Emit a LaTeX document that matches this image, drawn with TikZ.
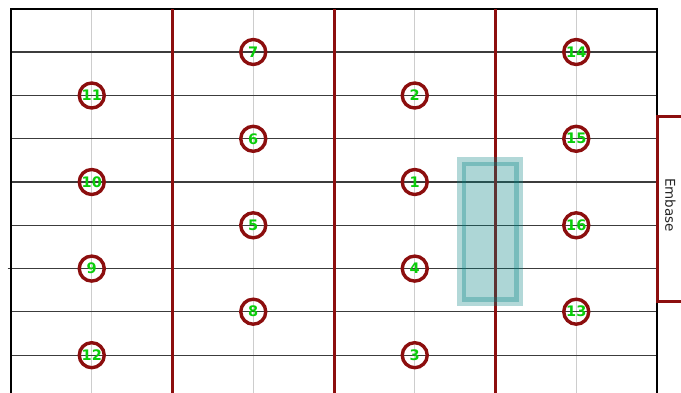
\documentclass[tikz,border=0pt]{standalone}
\usepackage{fontspec}
\setmainfont{DejaVu Sans}
\definecolor{dred}{RGB}{140,14,14}
\definecolor{lgreen}{RGB}{10,205,10}
\definecolor{tealc}{RGB}{0,128,128}
\definecolor{gridg}{RGB}{205,205,205}
\definecolor{hline}{RGB}{60,60,60}
\tikzset{
  hole/.style={circle, draw=dred, line width=3.4pt, minimum size=25pt, inner sep=0pt,
    text=lgreen, font=\bfseries\fontsize{14.5}{14.5}\selectfont},
  redline/.style={draw=dred, line width=3pt},
  gridline/.style={draw=gridg, line width=0.9pt},
  hl/.style={draw=hline, line width=1.3pt},
}
\begin{document}
\begin{tikzpicture}[x=1pt,y=-1pt]
\useasboundingbox (0,0) rectangle (681,393);
\clip (0,0) rectangle (681,393);
\fill[white] (0,0) rectangle (681,393);
% light vertical grid
\foreach \x in {91.75,253.25,414.75,576.25}
  \draw[gridline] (\x,9) -- (\x,400);
% horizontal lines
\foreach \y in {52,95.5,138.8,182,225.3,311.7,355.2}
  \draw[hl] (11,\y) -- (657,\y);
\draw[hl] (7.5,268.6) -- (657,268.6);
% frame
\draw[black, line width=1.8pt] (11,400) -- (11,9) -- (657,9) -- (657,400);
% red vertical lines
\foreach \x in {172.5,334,495.5}
  \draw[redline] (\x,9) -- (\x,400);
% teal box
\draw[draw=tealc, fill=tealc, draw opacity=0.3, fill opacity=0.32, line width=9pt]
  (461.5,161.7) rectangle (518.5,301.7);
% Embase
\draw[draw=dred, line width=3pt, fill=white] (700,116.7) -- (657.3,116.7) -- (657.3,301.7) -- (700,301.7);
\node[rotate=-90, font=\fontsize{13.5}{13.5}\selectfont, text=black!85] (emb) at (670.5,205) {Embase};
% holes
\node[hole] (n11) at (91.75,95.5) {11};
\node[hole] (n10) at (91.75,182) {10};
\node[hole] (n9) at (91.75,268.6) {9};
\node[hole] (n12) at (91.75,355.2) {12};
\node[hole] (n7) at (253.25,52) {7};
\node[hole] (n6) at (253.25,138.8) {6};
\node[hole] (n5) at (253.25,225.3) {5};
\node[hole] (n8) at (253.25,311.7) {8};
\node[hole] (n2) at (414.75,95.5) {2};
\node[hole] (n1) at (414.75,182) {1};
\node[hole] (n4) at (414.75,268.6) {4};
\node[hole] (n3) at (414.75,355.2) {3};
\node[hole] (n14) at (576.25,52) {14};
\node[hole] (n15) at (576.25,138.8) {15};
\node[hole] (n16) at (576.25,225.3) {16};
\node[hole] (n13) at (576.25,311.7) {13};
\end{tikzpicture}
\end{document}
